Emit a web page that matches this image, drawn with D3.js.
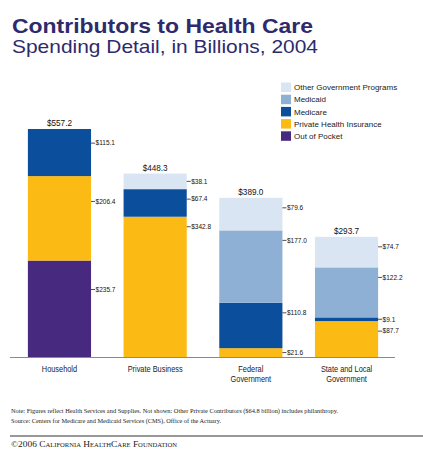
<!DOCTYPE html>
<html><head><meta charset="utf-8">
<script src="https://cdn.jsdelivr.net/npm/d3@7"></script>
<style>body{margin:0;background:#fff}svg{display:block}</style>
</head><body>
<svg id="c" width="423" height="457"></svg>
<script>
const categories = ["Household", "Private Business", "Federal Government", "State and Local Government"];
const categoryLines = [["Household"], ["Private Business"], ["Federal", "Government"], ["State and Local", "Government"]];
const seriesNames = ["Out of Pocket", "Private Health Insurance", "Medicare", "Medicaid", "Other Government Programs"];
const outOfPocket = [235.7, 0, 0, 0];
const privateInsurance = [206.4, 342.8, 21.6, 87.7];
const medicare = [115.1, 67.4, 110.8, 9.1];
const medicaid = [0, 0, 177.0, 122.2];
const otherGov = [0, 38.1, 79.6, 74.7];
const totals = [557.2, 448.3, 389.0, 293.7];
const colors = ["#472a80", "#fcbb14", "#0b4e9b", "#8eb0d5", "#d9e5f2"];

const svg = d3.select("#c");
const sans = "'Liberation Sans', Arial, sans-serif";
const serif = "'Liberation Serif', 'Times New Roman', serif";
const titleColor = "#2e2b6c";

svg.append("text").attr("x", 12).attr("y", 33).attr("font-family", sans).attr("font-weight", "bold")
  .attr("font-size", 21).attr("fill", titleColor).attr("textLength", 301).attr("lengthAdjust", "spacingAndGlyphs")
  .text("Contributors to Health Care");
svg.append("text").attr("x", 12).attr("y", 53).attr("font-family", sans)
  .attr("font-size", 19).attr("fill", titleColor).attr("textLength", 306).attr("lengthAdjust", "spacingAndGlyphs")
  .text("Spending Detail, in Billions, 2004");

const seriesVals = [outOfPocket, privateInsurance, medicare, medicaid, otherGov];
const rows = categories.map((c, i) => {
  const r = {cat: c};
  seriesNames.forEach((s, j) => r[s] = seriesVals[j][i]);
  return r;
});
const stack = d3.stack().keys(seriesNames)(rows);

const x = d3.scaleBand().domain(categories).range([12, 394]).paddingInner(0.34).paddingOuter(0.166);
const y = d3.scaleLinear().domain([0, 557.2]).range([357, 129]);

const g = svg.append("g");
stack.forEach((layer, j) => {
  layer.forEach((d, i) => {
    const v = d[1] - d[0];
    if (v <= 0) return;
    const cat = categories[i];
    const top = y(d[1]), bot = y(d[0]);
    g.append("rect").attr("x", x(cat)).attr("width", x.bandwidth())
      .attr("y", top).attr("height", bot - top).attr("fill", colors[j]);
    const h = bot - top;
    const ly = top + Math.min(h / 2, i === 0 ? h * 0.3 : 10);
    const rx = x(cat) + x.bandwidth();
    g.append("line").attr("x1", rx).attr("x2", rx + 4).attr("y1", ly).attr("y2", ly)
      .attr("stroke", "#222").attr("stroke-width", 0.8);
    g.append("text").attr("x", rx + 4.5).attr("y", ly).attr("dy", "0.35em")
      .attr("font-family", sans).attr("font-size", 6.5).attr("fill", "#111")
      .text("$" + v.toFixed(1));
  });
});

categories.forEach((c, i) => {
  g.append("text").attr("x", x(c) + x.bandwidth() / 2).attr("y", y(totals[i]) - 3)
    .attr("text-anchor", "middle").attr("font-family", sans).attr("font-size", 8.2).attr("fill", "#111")
    .text("$" + totals[i].toFixed(1));
  categoryLines[i].forEach((t, k) => {
    const el = g.append("text").attr("x", x(c) + x.bandwidth() / 2).attr("y", 372 + k * 10)
      .attr("text-anchor", "middle").attr("font-family", sans).attr("font-size", 9)
      .attr("fill", "#222").text(t);
    const w = el.node().getComputedTextLength();
    el.attr("textLength", w * 0.82).attr("lengthAdjust", "spacingAndGlyphs");
  });
});

svg.append("line").attr("x1", 10).attr("x2", 395).attr("y1", y(0) + 0.5).attr("y2", y(0) + 0.5)
  .attr("stroke", "#8a8a8a").attr("stroke-width", 1);

// legend
const legendOrder = [4, 3, 2, 1, 0];
legendOrder.forEach((j, k) => {
  const ly = 82.5 + k * 12.2;
  svg.append("rect").attr("x", 281).attr("y", ly).attr("width", 10).attr("height", 9.5).attr("fill", colors[j]);
  svg.append("text").attr("x", 294).attr("y", ly + 4.8).attr("dy", "0.35em")
    .attr("font-family", sans).attr("font-size", 8).attr("fill", "#222").text(seriesNames[j]);
});

svg.append("text").attr("x", 11).attr("y", 413).attr("font-family", serif).attr("font-size", 6).attr("fill", "#222")
  .attr("textLength", 327).attr("lengthAdjust", "spacingAndGlyphs")
  .text("Note: Figures reflect Health Services and Supplies. Not shown: Other Private Contributors ($64.8 billion) includes philanthropy.");
svg.append("text").attr("x", 11).attr("y", 423).attr("font-family", serif).attr("font-size", 6).attr("fill", "#222")
  .attr("textLength", 210).attr("lengthAdjust", "spacingAndGlyphs")
  .text("Source: Centers for Medicare and Medicaid Services (CMS), Office of the Actuary.");
svg.append("line").attr("x1", 10).attr("x2", 423).attr("y1", 436).attr("y2", 436).attr("stroke", "#333").attr("stroke-width", 1);
svg.append("text").attr("x", 11).attr("y", 447).attr("font-family", serif).attr("font-size", 8.5)
  .attr("font-variant", "small-caps").attr("fill", "#222")
  .attr("textLength", 166).attr("lengthAdjust", "spacingAndGlyphs")
  .text("©2006 California HealthCare Foundation");
</script>
</body></html>
